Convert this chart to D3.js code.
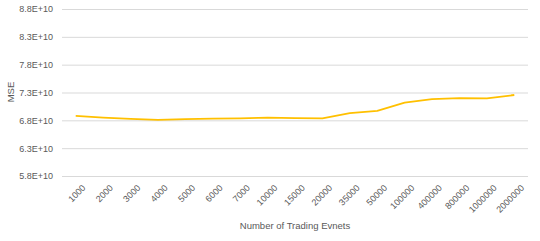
<!DOCTYPE html>
<html>
<head>
<meta charset="utf-8">
<script src="https://cdn.jsdelivr.net/npm/d3@7"></script>
<style>
  body { margin: 0; background: #fff; }
  text { font-family: "Liberation Sans", Arial, sans-serif; fill: #595959; }
</style>
</head>
<body>
<script>
let categories = ["1000","2000","3000","4000","5000","6000","7000","10000","15000","20000","35000","50000","100000","400000","800000","1000000","2000000"];
let mseValues = [6.88e10,6.85e10,6.825e10,6.81e10,6.82e10,6.83e10,6.835e10,6.85e10,6.84e10,6.835e10,6.93e10,6.97e10,7.12e10,7.18e10,7.2e10,7.195e10,7.255e10];
let yTicks = [5.8e10,6.3e10,6.8e10,7.3e10,7.8e10,8.3e10,8.8e10];

let width = 540;
let height = 241;
let plotLeft = 62, plotRight = 528, plotTop = 9, plotBottom = 176;

let svg = d3.select("body").append("svg").attr("width", width).attr("height", height);

let xScale = d3.scaleBand()
				.domain(categories)
				.range([plotLeft, plotRight]);

let yScale = d3.scaleLinear()
				.domain([5.8e10, 8.8e10])
				.range([plotBottom, plotTop]);

let fmt = (v) => (v / 1e10).toFixed(1) + "E+10";

let yAxis = d3.axisLeft(yScale)
			  .tickValues(yTicks)
			  .tickFormat(fmt)
			  .tickSize(-(plotRight - plotLeft))
			  .tickPadding(9);

let gy = svg.append("g")
	.attr("transform", `translate(${plotLeft},0)`)
	.call(yAxis);
gy.select(".domain").remove();
gy.selectAll("line").attr("stroke", "#d9d9d9");
gy.selectAll("text").attr("font-size", "9px").attr("fill", "#595959");

let xAxis = d3.axisBottom(xScale).tickSize(0).tickPadding(6);
let gx = svg.append("g")
	.attr("transform", `translate(0,${plotBottom})`)
	.call(xAxis);
gx.select(".domain").remove();
gx.selectAll("text")
	.attr("font-size", "9px")
	.attr("fill", "#595959")
	.attr("text-anchor", "end")
	.attr("dy", "0.35em")
	.attr("transform", "translate(4,6) rotate(-45)");

let line = d3.line()
	.x((d, i) => xScale(categories[i]) + xScale.bandwidth() / 2)
	.y((d) => yScale(d));

svg.append("path")
	.datum(mseValues)
	.attr("d", line)
	.attr("fill", "none")
	.attr("stroke", "#FFC000")
	.attr("stroke-width", 1.8)
	.attr("stroke-linejoin", "round");

svg.append("text")
	.attr("x", 295)
	.attr("y", 229)
	.attr("text-anchor", "middle")
	.attr("font-size", "9.5px")
	.text("Number of Trading Evnets");

svg.append("text")
	.attr("transform", "translate(14,92) rotate(-90)")
	.attr("text-anchor", "middle")
	.attr("font-size", "9.5px")
	.text("MSE");
</script>
</body>
</html>
